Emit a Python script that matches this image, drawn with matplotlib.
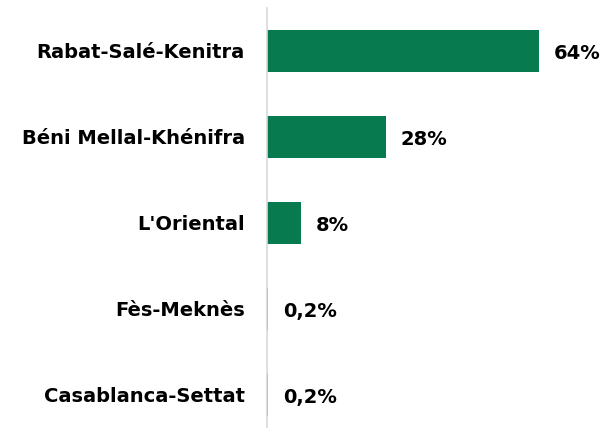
import matplotlib.pyplot as plt

regions = ['Rabat-Salé-Kenitra', 'Béni Mellal-Khénifra', "L'Oriental",
           'Fès-Meknès', 'Casablanca-Settat']
shares = [64, 28, 8, 0.2, 0.2]

GREEN = '#077b4f'

def pct_label(v):
    # decimal comma, no decimals for whole numbers
    if float(v).is_integer():
        return '%d%%' % v
    return ('%.1f%%' % v).replace('.', ',')

plt.rcParams['font.family'] = ['DejaVu Sans']

fig = plt.figure(figsize=(6.05, 4.28), dpi=100)
ax = fig.add_axes([267 / 605, 0, 338 / 605, 420 / 428])

ypos = list(range(len(regions)))
ax.barh(ypos, shares, height=0.49, color=GREEN)

for y, v in zip(ypos, shares):
    ax.annotate(pct_label(v), (v, y), xytext=(15, -3), textcoords='offset pixels',
                va='center', ha='left', fontsize=14, fontweight='bold', color='black')

ax.set_yticks(ypos)
ax.set_yticklabels(regions, fontsize=14, fontweight='bold')
ax.tick_params(axis='y', length=0, pad=16)
ax.set_xticks([])
ax.set_xlim(0, 338 / 4.25)
ax.set_ylim(4.384, -0.5)

for s in ['top', 'right', 'bottom']:
    ax.spines[s].set_visible(False)
ax.spines['left'].set_color('#d9d9d9')
ax.spines['left'].set_linewidth(1.2)

fig.savefig('out.png', dpi=100)
